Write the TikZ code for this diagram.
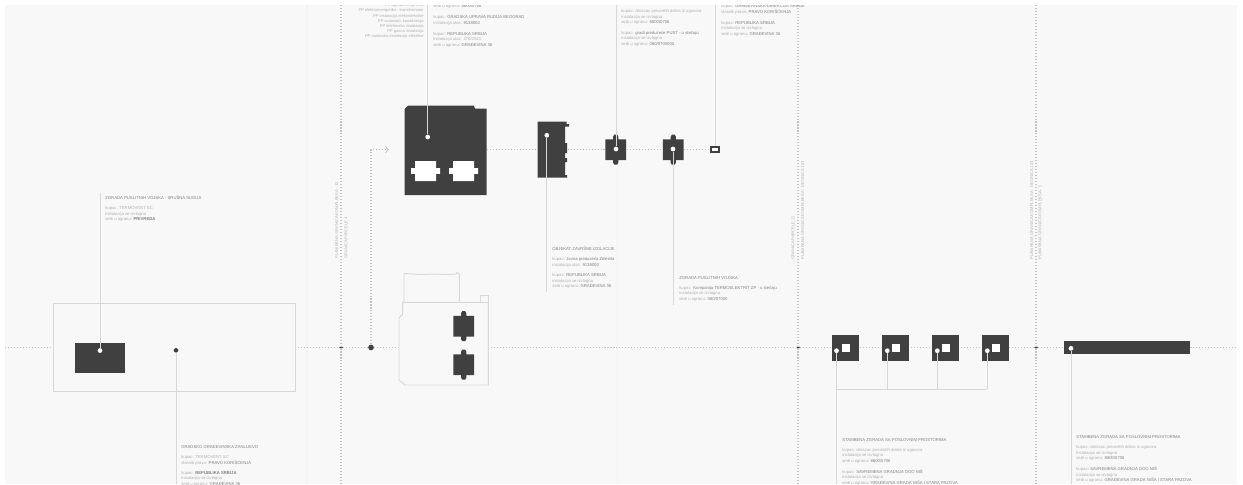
\documentclass[tikz,border=0pt]{standalone}
\usepackage{fontspec}
\setmainfont{Liberation Sans}
\definecolor{paper}{HTML}{F8F8F8}
\definecolor{blockgray}{HTML}{404040}
\definecolor{leadgray}{HTML}{D8D8D8}
\definecolor{dotgray}{HTML}{C4C4C4}
\definecolor{bandgray}{HTML}{F4F4F4}
\definecolor{textmid}{HTML}{B0B0B0}
\definecolor{textdark}{HTML}{808080}
\newcommand{\tdark}[1]{{\color{textdark}#1}}

\begin{document}
\begin{tikzpicture}[x=0.02cm, y=-0.02cm,
    block/.style={fill=blockgray},
    outline/.style={draw=leadgray, line width=0.55pt},
    leader/.style={draw=leadgray, line width=0.55pt},
    axisline/.style={draw=dotgray, line width=0.6pt, dash pattern=on 0.6pt off 1.1pt},
    whitedot/.style={circle, fill=white, inner sep=0pt, minimum size=2.7pt},
    darkdot/.style={circle, fill=blockgray, inner sep=0pt, minimum size=#1},
    darkdot/.default=2.6pt,
    info/.style={anchor=north west, align=left, inner sep=0pt, text=textmid, font=\fontsize{2.4}{3.1}\selectfont},
    infolist/.style={anchor=north east, align=right, inner sep=0pt, text=textmid, font=\fontsize{2.3}{2.95}\selectfont},
    sidenote/.style={rotate=90, anchor=west, inner sep=0pt, text=textmid, font=\fontsize{2.3}{3}\selectfont},
]
\useasboundingbox (0,0) rectangle (1243,484);
\clip (0,0) rectangle (1243,484);
\fill[white] (0,0) rectangle (1243,484);
\fill[paper] (5,5) rectangle (1237,484);
\draw[bandgray, line width=0.6pt] (307,5) -- (307,484);
\draw[bandgray, line width=0.6pt] (617.5,5) -- (617.5,484);

%%%%%%%%%%
% Axis lines (background)
%%%%%%%%%%
\coordinate (axisL) at (5,347.5);
\coordinate (axisR) at (1237,347.5);
\coordinate (boxL) at (53,347.5);
\coordinate (boxR) at (295,347.5);
\coordinate (shellL) at (399,347.5);
\coordinate (shellR) at (488,347.5);
\coordinate (upperL) at (487,149.5);
\coordinate (arrowEnd) at (389,149.5);
\coordinate (arrowBend) at (371,149.5);
\node[darkdot=2pt] (crossA) at (341,347.5) {};
\node[darkdot=3.2pt] (branch) at (371,347.5) {};
\node[darkdot=2pt] (crossB) at (798,347.5) {};
\node[darkdot=2pt] (crossC) at (1036,347.5) {};
\node[draw=blockgray, line width=1.1pt, fill=white, inner sep=0pt, minimum width=4.2pt, minimum height=3.1pt] (tinyBox) at (715,149.5) {};

\draw[axisline] (axisL) -- (boxL);
\draw[axisline] (boxR) -- (crossA) -- (branch) -- (shellL);
\draw[axisline] (shellR) -- (crossB) -- (crossC) -- (axisR);
\draw[axisline] (upperL) -- (tinyBox);
\draw[axisline, ->] (branch) -- (arrowBend) -- (arrowEnd);
\foreach \x in {341,798,1036} {
\draw[axisline] (\x,5) -- (\x,484);
}

% Side notes on the axis lines
\node[sidenote] (noteA1) at (336.7,259) {PLANIRANA GRANICA KOMPLEKSA - 12};
\node[sidenote] (noteA2) at (346,259) {GRANICA PARCELE 4};
\node[sidenote] (noteB1) at (793,260) {GRANICA PARCELE 11};
\node[sidenote] (noteB2) at (802.7,260) {PLANIRANA GRANICA KOMPLEKSA - DEONICA 123};
\node[sidenote] (noteC1) at (1031.7,260) {PLANIRANA GRANICA KOMPLEKSA - DEONICA 123};
\node[sidenote] (noteC2) at (1040,260) {PLANIRANA GRANICA KOMPLEKSA - 5};

%%%%%%%%%%
% Blocks
%%%%%%%%%%
% Left frame and its block
\draw[outline, fill=paper] (53,303) rectangle (295,391);
\fill[block] (75,343) rectangle (125,373);

% Large block with two openings
\fill[block] (404.5,109) -- (408,105.5) -- (473.5,105.5) -- (475,108.5) -- (486.7,108.5) -- (486.7,195) -- (404.5,195) -- cycle;
\foreach \x in {425.5,463.5} {
\fill[white, shift={(\x,171)}] (-10.5,-10) -- (10.5,-10) -- (10.5,-2.8) -- (14.5,-2.8) -- (14.5,2.8) -- (10.5,2.8) -- (10.5,10) -- (-10.5,10) -- (-10.5,2.8) -- (-14.5,2.8) -- (-14.5,-2.8) -- (-10.5,-2.8) -- cycle;
}

% Narrow block with right bumps
\fill[block] (537.7,121.7) -- (566.7,121.7) -- (566.7,124) -- (569,124) -- (569,126.5) -- (565,126.5) -- (565,143) -- (567,143) -- (567,153) -- (565,153) -- (565,158) -- (567,158) -- (567,162) -- (565,162) -- (565,175) -- (567,175) -- (567,177.7) -- (537.7,177.7) -- cycle;

% Outline shell with upper boxes
\draw[outline] (402.7,302.3) -- (402.7,314) -- (399,318) -- (399,380) -- (405,385) -- (488.3,385) -- (488.3,302.3) -- cycle;
\draw[outline] (404,302.3) -- (404,273.5) -- (420,274.5) -- (436,274) -- (445,274.5) -- (456,274) -- (457,272.5) -- (459.3,274) -- (459.3,302.3);
\draw[outline] (480.7,302.3) -- (480.7,295) -- (488.3,295) -- (488.3,302.3);

% Tabbed blocks
\foreach \x/\y in {615.7/149.7, 673.3/149.7, 463.7/326.2, 463.7/364.7} {
\fill[block, shift={(\x,\y)}] (-10.4,-10.4) -- (-2.6,-10.4) -- (-2.6,-13) -- (-1.5,-15) -- (1.5,-15) -- (2.6,-13) -- (2.6,-10.4) -- (10.4,-10.4) -- (10.4,10.4) -- (2.6,10.4) -- (2.6,13) -- (1.5,15) -- (-1.5,15) -- (-2.6,13) -- (-2.6,10.4) -- (-10.4,10.4) -- cycle;
}

% Four squares and the long bar
\foreach \x in {832.3,882.3,932.3,982.3} {
\fill[block] (\x,334.7) rectangle ++(26.2,26);
\fill[white] (\x+10,344.3) rectangle ++(7.4,7.4);
}
\fill[block] (1063.7,341.3) rectangle (1189.7,354.3);

%%%%%%%%%%
% Leaders
%%%%%%%%%%
\node[whitedot] (dotDepot) at (100,350.5) {};
\node[darkdot] (dotFrame) at (176,350.3) {};
\node[whitedot] (dotLarge) at (427.7,137) {};
\node[whitedot] (dotNarrow) at (546.8,135.3) {};
\node[whitedot] (dotTabA) at (616,149) {};
\node[whitedot] (dotTabB) at (673,149) {};
\foreach \n/\x in {dotSqA/836.5,dotSqB/887.3,dotSqC/937.3,dotSqD/987.3} {
\node[whitedot] (\n) at (\x,350.7) {};
}
\node[whitedot] (dotBar) at (1071,348.3) {};

\coordinate (endDepot) at (100,193);
\coordinate (endFrame) at (176,484);
\coordinate (endLarge) at (427.7,5);
\coordinate (endNarrow) at (546.8,291.7);
\coordinate (endTabA) at (616,5);
\coordinate (endTabB) at (673,305);
\coordinate (endTiny) at (715,5);
\coordinate (endSq) at (836.5,484);
\coordinate (endBar) at (1071,484);
\coordinate (busA) at (836.5,389);
\coordinate (busD) at (987.3,389);

\draw[leader] (dotDepot) -- (endDepot);
\draw[leader] (dotFrame) -- (endFrame);
\draw[leader] (dotLarge) -- (endLarge);
\draw[leader] (dotNarrow) -- (endNarrow);
\draw[leader] (dotTabA) -- (endTabA);
\draw[leader] (dotTabB) -- (endTabB);
\draw[leader] (tinyBox) -- (endTiny);
\draw[leader] (dotSqA) -- (endSq);
\draw[leader] (dotBar) -- (endBar);
\draw[leader] (busA) -- (busD);
\draw[leader] (dotSqB) -- (dotSqB |- busA);
\draw[leader] (dotSqC) -- (dotSqC |- busA);
\draw[leader] (dotSqD) -- (busD);

%%%%%%%%%%
% Labels (foreground)
%%%%%%%%%%
\node[info] (infoDepot) at (105,195.5) {\tdark{ZGRADA PUSLITNIH VOJSKA - SRUŠNA SUDIJA}\\[2.6pt]
kupac: TERMOVENT SC\\instalacija se izvlagna\\sedi u ogranu: \tdark{\textbf{PRIVREDA}}};
\node[info] (infoFrame) at (181,445.5) {\tdark{GRADSKO GRAĐEVINSKA ZANLIJEVO}\\[2.6pt]
kupac: TERMOVENT SC\\vlasnik prava: \tdark{PRAVO KORIŠĆENJA}\\[2.6pt]
kupac: \tdark{\textbf{REPUBLIKA SRBIJA}}\\instalacija se izvlagna\\sedi u ogranu: \tdark{GRAĐEVINA 36}};
\node[infolist] (infoParts) at (424,3.5) {PP ugrađena oprema\\PP elektroenergetika - transformator\\PP instalacija elektrotehnike\\PP vodovod i kanalizacija\\PP telefonska instalacija\\PP gasna instalacija\\PP mašinska instalacija elektrike};
\node[info] (infoLarge) at (433,4.2) {sedi u ogranu: \tdark{8800/0706}\\[3.3pt]
kupac: \tdark{GRADSKA UPRAVA RUDIJA BEOGRAD}\\instalacija ulaz: \tdark{9138000}\\[3.3pt]
kupac: \tdark{REPUBLIKA SRBIJA}\\instalacija ulaz: 370/2543\\sedi u ogranu: \tdark{GRAĐEVINA 36}};
\node[info] (infoNarrow) at (552,246.5) {\tdark{OBJEKAT ZAVRŠNE IZOLACIJE}\\[2.6pt]
kupac: \tdark{Javna preduzeća Zelenila}\\instalacija ulaz: \tdark{9138000}\\[3.1pt]
kupac: \tdark{REPUBLIKA SRBIJA}\\instalacija se izvlagna\\sedi u ogranu: \tdark{GRAĐEVINA 36}};
\node[info] (infoTabA) at (621,9.2) {kupac: obrazac preuzetih dobra iz ugovora\\instalacija se izvlagna\\sedi u ogranu: \tdark{8800/0706}\\[3.1pt]
kupac: \tdark{gradi preduzeće PUST - u stečaju}\\instalacija se izvlagna\\sedi u ogranu: \tdark{080/0700000}};
\node[info] (infoTabB) at (679,276.2) {\tdark{ZGRADA PUSLITNIH VOJSKA}\\[2.6pt]
kupac: \tdark{Kompanija TERMOELEKTRIT ZP - u stečaju}\\instalacija se izvlagna\\sedi u ogranu: \tdark{080/07000}};
\node[info] (infoTiny) at (721,4.2) {kupac: \tdark{GRAĐEVINSKA DIREKCIJA SRBIJE}\\vlasnik prava: \tdark{PRAVO KORIŠĆENJA}\\[3.3pt]
kupac: \tdark{REPUBLIKA SRBIJA}\\instalacija se izvlagna\\sedi u ogranu: \tdark{GRAĐEVINA 36}};
\node[info] (infoSq) at (842,438.2) {\tdark{STAMBENA ZGRADA SA POSLOVNIM PROSTORIMA}\\[2.6pt]
kupac: obrazac preuzetih dobra iz ugovora\\instalacija se izvlagna\\sedi u ogranu: \tdark{8800/0706}\\[3.1pt]
kupac: \tdark{SAVREMENA GRADNJA DOO NIŠ}\\instalacija se izvlagna\\sedi u ogranu: \tdark{GRAĐEVINA GRADA NIŠA I STARA PAZOVA}};
\node[info] (infoBar) at (1076,435.5) {\tdark{STAMBENA ZGRADA SA POSLOVNIM PROSTORIMA}\\[2.6pt]
kupac: obrazac preuzetih dobra iz ugovora\\instalacija se izvlagna\\sedi u ogranu: \tdark{8800/0706}\\[3.1pt]
kupac: \tdark{SAVREMENA GRADNJA DOO NIŠ}\\instalacija se izvlagna\\sedi u ogranu: \tdark{GRAĐEVINA GRADA NIŠA I STARA PAZOVA}};

% Top margin stays clear
\fill[white] (0,0) rectangle (1243,5);
\end{tikzpicture}
\end{document}
